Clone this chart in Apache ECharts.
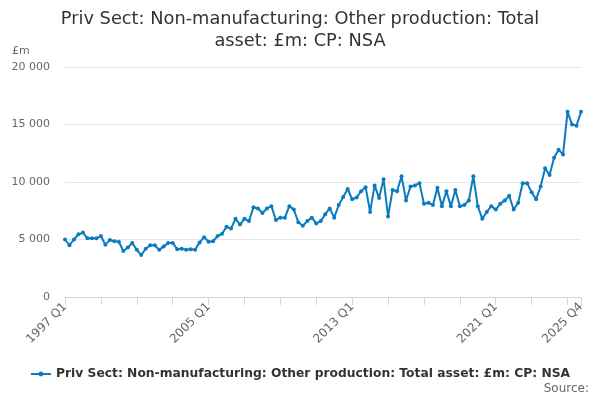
<!DOCTYPE html>
<html lang="en">

<head>
  <script src="https://cdn.jsdelivr.net/npm/echarts@6.0.0/dist/echarts.min.js"></script>
</head>

<body style="margin:0">
  <div id="assetChart" style="width: 600px;height:400px;"></div>

  <script type="text/javascript">

    var seriesName = 'Priv Sect: Non-manufacturing: Other production: Total asset: £m: CP: NSA';

    // quarters 1997 Q1 .. 2025 Q4
    var quarters = [];
    for (var y = 1997; y <= 2025; y++) {
        for (var q = 1; q <= 4; q++) {
            quarters.push(y + ' Q' + q);
        }
    }

    var values = [
        5000, 4500, 5000, 5450, 5600, 5100, 5100, 5100, 5300, 4550,
        4950, 4850, 4800, 4000, 4300, 4700, 4100, 3650, 4200, 4500,
        4500, 4100, 4400, 4700, 4700, 4150, 4200, 4100, 4150, 4100,
        4750, 5200, 4800, 4850, 5300, 5500, 6100, 5950, 6800, 6300,
        6800, 6600, 7800, 7700, 7300, 7700, 7900, 6700, 6900, 6900,
        7900, 7600, 6500, 6200, 6600, 6900, 6400, 6600, 7200, 7700,
        6900, 8000, 8700, 9400, 8500, 8650, 9200, 9550, 7400, 9700,
        8600, 10250, 7000, 9300, 9200, 10500, 8400, 9600, 9700, 9900,
        8100, 8200, 8000, 9500, 7900, 9200, 7900, 9300, 7900, 8000,
        8400, 10500, 7900, 6800, 7400, 7900, 7600, 8100, 8400, 8800,
        7600, 8200, 9900, 9900, 9100, 8500, 9600, 11200, 10600, 12100,
        12800, 12400, 16100, 15000, 14900, 16100
    ];

    var labelIndexes = [0, 32, 64, 96, 115];

    function createAssetChart() {
        const chart = echarts.init(document.getElementById('assetChart'));
        const last = quarters.length - 1;

        let option = {
            textStyle: { fontFamily: 'DejaVu Sans' },
            title: {
                text: 'Priv Sect: Non-manufacturing: Other production: Total\nasset: £m: CP: NSA',
                left: 'center',
                top: 3,
                textStyle: {
                    fontSize: 17.8,
                    fontWeight: 'normal',
                    color: '#333333',
                    lineHeight: 22,
                    align: 'center',
                    fontFamily: 'DejaVu Sans'
                }
            },
            legend: {
                left: 'center',
                top: 363,
                itemWidth: 20,
                itemHeight: 6,
                itemGap: 4,
                textStyle: {
                    fontSize: 12.3,
                    fontWeight: 'bold',
                    color: '#333333'
                }
            },
            graphic: [
                {
                    type: 'text',
                    left: 12,
                    top: 46,
                    style: { text: '£m', fontSize: 11, fill: '#666666', fontFamily: 'DejaVu Sans' }
                },
                {
                    type: 'text',
                    right: 11,
                    top: 383,
                    style: { text: 'Source:', fontSize: 12, fill: '#666666', fontFamily: 'DejaVu Sans' }
                }
            ],
            grid: {
                left: 65,
                right: 19,
                top: 67,
                bottom: 103
            },
            xAxis: {
                type: 'category',
                data: quarters,
                boundaryGap: false,
                axisLine: { lineStyle: { color: '#ccd6eb' } },
                axisTick: {
                    length: 8,
                    lineStyle: { color: '#ccd6eb' },
                    interval: function (i) { return i % 8 === 0 || i === last; }
                },
                axisLabel: {
                    rotate: 45,
                    fontSize: 12,
                    color: '#666666',
                    margin: 8,
                    interval: function (i) { return labelIndexes.indexOf(i) >= 0; }
                }
            },
            yAxis: {
                type: 'value',
                min: 0,
                max: 20000,
                interval: 5000,
                axisLabel: {
                    fontSize: 11,
                    color: '#666666',
                    margin: 15,
                    formatter: function (v) {
                        return v >= 1000 ? Math.floor(v / 1000) + ' ' + String(v % 1000).padStart(3, '0') : String(v);
                    }
                },
                splitLine: { lineStyle: { color: '#e6e6e6' } }
            },
            series: [
                {
                    name: seriesName,
                    type: 'line',
                    data: values,
                    color: '#0b7bc0',
                    symbol: 'circle',
                    symbolSize: 4,
                    showAllSymbol: true,
                    lineStyle: { width: 2 },
                    animation: false
                }
            ]
        };

        chart.setOption(option);
    }
    createAssetChart();
  </script>
</body>

</html>
